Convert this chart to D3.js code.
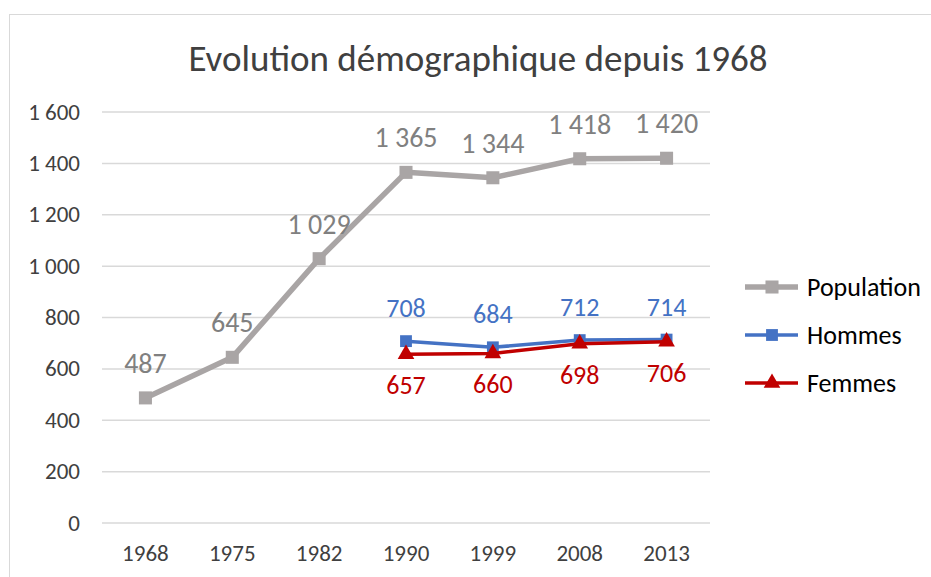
<!DOCTYPE html>
<html>
<head>
<meta charset="utf-8">
<script src="https://cdn.jsdelivr.net/npm/d3@7"></script>
<style>
  body { margin: 0; background: #fff; }
  svg { display: block; font-family: Carlito, "Liberation Sans Narrow", "DejaVu Sans Condensed", sans-serif; }
</style>
</head>
<body>
<svg id="chart" width="931" height="577"></svg>
<script>
const years = ["1968", "1975", "1982", "1990", "1999", "2008", "2013"];
const population = [487, 645, 1029, 1365, 1344, 1418, 1420];
const hommes = [null, null, null, 708, 684, 712, 714];
const femmes = [null, null, null, 657, 660, 698, 706];
const yTicks = [0, 200, 400, 600, 800, 1000, 1200, 1400, 1600];

const svg = d3.select("#chart");
const fmt = v => d3.format(",")(v).replace(/,/g, " ");

// chart frame
svg.append("rect")
  .attr("x", 9.5).attr("y", 14.5)
  .attr("width", 940).attr("height", 580)
  .attr("fill", "none").attr("stroke", "#d9d9d9");

svg.append("text")
  .attr("x", 478).attr("y", 71)
  .attr("text-anchor", "middle")
  .attr("font-size", 37)
  .attr("fill", "#404040")
  .text("Evolution démographique depuis 1968");

const x = d3.scaleBand().domain(years).range([102, 710]);
const y = d3.scaleLinear().domain([0, 1600]).range([523, 112]);

// gridlines
svg.append("g").selectAll("line")
  .data(yTicks).enter().append("line")
  .attr("x1", 102).attr("x2", 710)
  .attr("y1", d => y(d)).attr("y2", d => y(d))
  .attr("stroke", "#d9d9d9").attr("stroke-width", 1.5);

// y labels
svg.append("g").selectAll("text")
  .data(yTicks).enter().append("text")
  .attr("x", 80).attr("y", d => y(d) + 7.5)
  .attr("text-anchor", "end")
  .attr("font-size", 23)
  .attr("fill", "#404040")
  .text(d => fmt(d));

// x labels
svg.append("g").selectAll("text")
  .data(years).enter().append("text")
  .attr("x", d => x(d) + x.bandwidth() / 2)
  .attr("y", 561)
  .attr("text-anchor", "middle")
  .attr("font-size", 23)
  .attr("fill", "#404040")
  .text(d => d);

const cx = i => x(years[i]) + x.bandwidth() / 2;

function drawSeries(values, color, width, marker, size) {
  const pts = values.map((v, i) => ({ i, v })).filter(d => d.v !== null);
  const line = d3.line().x(d => cx(d.i)).y(d => y(d.v));
  svg.append("path")
    .datum(pts)
    .attr("d", line)
    .attr("fill", "none")
    .attr("stroke", color)
    .attr("stroke-width", width)
    .attr("stroke-linejoin", "round");
  svg.append("g").selectAll("path")
    .data(pts).enter().append("path")
    .attr("transform", d => `translate(${cx(d.i)},${y(d.v)})`)
    .attr("d", d3.symbol().type(marker).size(size))
    .attr("fill", color);
  return pts;
}

const popPts = drawSeries(population, "#a9a5a5", 5.5, d3.symbolSquare, 170);
const homPts = drawSeries(hommes, "#4472c4", 3.5, d3.symbolSquare, 140);
const femPts = drawSeries(femmes, "#c00000", 3.5, d3.symbolTriangle, 120);

// data labels
svg.append("g").selectAll("text")
  .data(popPts).enter().append("text")
  .attr("x", d => cx(d.i)).attr("y", d => y(d.v) - 25)
  .attr("text-anchor", "middle")
  .attr("font-size", 28)
  .attr("fill", "#808080")
  .text(d => fmt(d.v));

svg.append("g").selectAll("text")
  .data(homPts).enter().append("text")
  .attr("x", d => cx(d.i)).attr("y", d => y(d.v) - 24)
  .attr("text-anchor", "middle")
  .attr("font-size", 26)
  .attr("fill", "#4472c4")
  .text(d => fmt(d.v));

svg.append("g").selectAll("text")
  .data(femPts).enter().append("text")
  .attr("x", d => cx(d.i)).attr("y", d => y(d.v) + 40)
  .attr("text-anchor", "middle")
  .attr("font-size", 26)
  .attr("fill", "#c00000")
  .text(d => fmt(d.v));

// legend
const legend = [
  { name: "Population", color: "#a9a5a5", width: 5.5, marker: d3.symbolSquare, size: 170 },
  { name: "Hommes", color: "#4472c4", width: 3.5, marker: d3.symbolSquare, size: 140 },
  { name: "Femmes", color: "#c00000", width: 3.5, marker: d3.symbolTriangle, size: 120 }
];
const lg = svg.append("g").selectAll("g")
  .data(legend).enter().append("g")
  .attr("transform", (d, i) => `translate(0,${287 + i * 48})`);
lg.append("line")
  .attr("x1", 745).attr("x2", 798)
  .attr("stroke", d => d.color).attr("stroke-width", d => d.width);
lg.append("path")
  .attr("transform", "translate(772,0)")
  .attr("d", d => d3.symbol().type(d.marker).size(d.size)())
  .attr("fill", d => d.color);
lg.append("text")
  .attr("x", 807).attr("y", 9)
  .attr("font-size", 26)
  .attr("fill", "#000")
  .text(d => d.name);
</script>
</body>
</html>
